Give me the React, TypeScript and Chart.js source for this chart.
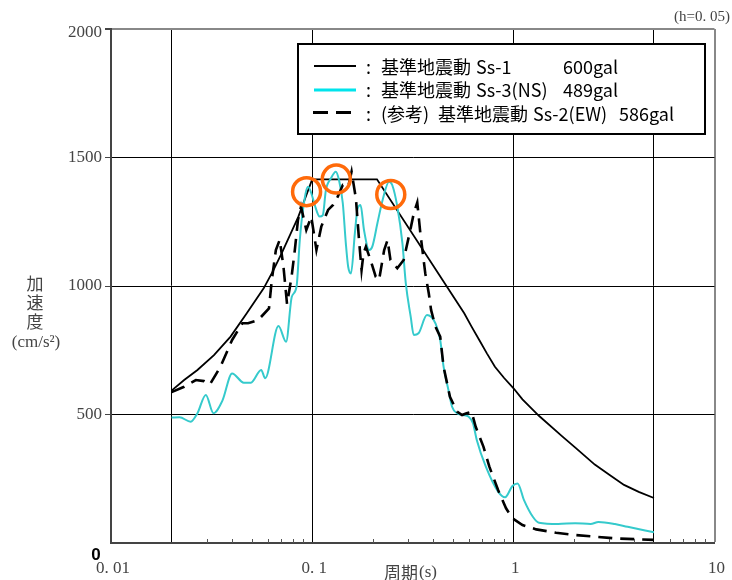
import { useEffect, useRef } from 'react';
import { Chart, registerables } from 'chart.js';
Chart.register(...registerables);

// ---- data ----
const ss1Period = [0.02, 0.0231, 0.0269, 0.0325, 0.0393, 0.0473, 0.0574, 0.0642, 0.0705, 0.0853, 0.1, 0.21, 0.57, 0.62, 0.677, 0.74, 0.81, 0.9, 1.0, 1.11, 1.34, 1.75, 2.04, 2.54, 3.0, 3.55, 4.2, 5.0];
const ss1Accel = [593, 634, 673, 731, 803, 894, 991, 1062, 1127, 1269, 1415, 1415, 894, 842, 790, 737, 686, 642, 603, 559, 495, 415, 370, 305, 266, 226, 199, 175];

const ss3Period = [0.02, 0.0219, 0.0249, 0.0269, 0.0296, 0.0323, 0.0358, 0.04, 0.0457, 0.0496, 0.0558, 0.0584, 0.068, 0.0742, 0.0792, 0.0836, 0.0868, 0.09, 0.0954, 0.099, 0.103, 0.109, 0.113, 0.117, 0.124, 0.131, 0.136, 0.142, 0.147, 0.151, 0.156, 0.163, 0.168, 0.174, 0.181, 0.192, 0.199, 0.211, 0.224, 0.241, 0.25, 0.265, 0.281, 0.292, 0.309, 0.32, 0.338, 0.372, 0.39, 0.41, 0.433, 0.45, 0.476, 0.496, 0.525, 0.56, 0.6, 0.63, 0.658, 0.73, 0.84, 0.91, 0.99, 1.05, 1.13, 1.25, 1.34, 1.67, 2.03, 2.42, 2.65, 3.2, 3.7, 5.0];
const ss3Accel = [488, 489, 472, 505, 576, 505, 554, 660, 624, 624, 673, 641, 844, 783, 958, 997, 1179, 1296, 1386, 1361, 1315, 1270, 1276, 1373, 1419, 1445, 1412, 1322, 1166, 1075, 1049, 1205, 1300, 1315, 1218, 1140, 1153, 1244, 1335, 1406, 1393, 1309, 1166, 1011, 880, 809, 816, 887, 880, 855, 790, 686, 595, 530, 505, 498, 491, 466, 401, 297, 200, 178, 222, 232, 167, 102, 79, 74, 77, 74, 82, 74, 63, 42];

const ss2Period = [0.02, 0.0231, 0.0264, 0.029, 0.031, 0.035, 0.04, 0.045, 0.048, 0.054, 0.061, 0.063, 0.066, 0.069, 0.072, 0.075, 0.079, 0.082, 0.085, 0.088, 0.0935, 0.099, 0.105, 0.111, 0.12, 0.127, 0.134, 0.142, 0.151, 0.157, 0.165, 0.171, 0.176, 0.18, 0.185, 0.195, 0.207, 0.215, 0.228, 0.237, 0.245, 0.265, 0.285, 0.31, 0.32, 0.333, 0.345, 0.365, 0.38, 0.39, 0.41, 0.433, 0.45, 0.484, 0.525, 0.556, 0.586, 0.62, 0.65, 0.71, 0.76, 0.84, 0.92, 0.99, 1.11, 1.3, 1.63, 2.03, 2.5, 3.2, 5.0];
const ss2Accel = [587, 608, 634, 630, 617, 686, 790, 855, 855, 868, 913, 1023, 1140, 1180, 1075, 930, 1036, 1140, 1257, 1309, 1218, 1270, 1140, 1231, 1296, 1315, 1348, 1393, 1386, 1445, 1340, 1179, 1062, 1127, 1153, 1101, 1036, 1023, 1140, 1179, 1101, 1069, 1101, 1231, 1283, 1325, 1205, 1049, 971, 907, 842, 803, 686, 569, 511, 498, 505, 511, 452, 375, 297, 206, 135, 96, 70, 53, 40, 31, 25, 18, 12];

const peakPeriod = [0.0938, 0.1318, 0.2459];
const peakAccel = [1367, 1416, 1356];

const xGridValues = [0.01, 0.02, 0.1, 1, 5, 10];
const xTickValues = [0.01, 0.1, 1, 10];
const xTickLabels = ['0. 01', '0. 1', '1', '10'];
const xMinorValues = [0.03, 0.04, 0.05, 0.06, 0.07, 0.08, 0.09, 0.2, 0.3, 0.4, 0.5, 0.6, 0.7, 0.8, 0.9, 2, 3, 4, 6, 7, 8, 9];
const yTickValues = [500, 1000, 1500, 2000];
const yTickLabels = ['500', '1000', '1500', '2000'];

const seriesNames = ['基準地震動 Ss-1', '基準地震動 Ss-3(NS)', '(参考)基準地震動 Ss-2(EW)'];

const CYAN = '#35CACC';
const ORANGE = '#FF6A0A';
const SERIF = '"Liberation Serif", "DejaVu Serif", serif';
const GOTHIC = '"Noto Sans CJK JP", "Noto Sans", sans-serif';

const toPts = (xs: number[], ys: number[]) => xs.map((x, i) => ({ x, y: ys[i] }));

const decorPlugin = {
  id: 'decor',
  afterDraw(chart: any) {
    const ctx = chart.ctx as CanvasRenderingContext2D;
    const xs = chart.scales.x;
    const ys = chart.scales.y;
    const area = chart.chartArea;
    ctx.save();
    // minor ticks on bottom axis
    ctx.strokeStyle = '#555';
    ctx.lineWidth = 1;
    xMinorValues.forEach((v) => {
      const px = Math.round(xs.getPixelForValue(v)) + 0.5;
      ctx.beginPath();
      ctx.moveTo(px, area.bottom);
      ctx.lineTo(px, area.bottom - 4);
      ctx.stroke();
    });
    // y tick labels
    ctx.fillStyle = '#444';
    ctx.font = '17px ' + SERIF;
    ctx.textAlign = 'right';
    ctx.textBaseline = 'middle';
    yTickValues.forEach((v, i) => {
      const py = ys.getPixelForValue(v) + (v === 2000 ? 4 : 0);
      ctx.fillText(yTickLabels[i], 102, py);
    });
    // zero label
    ctx.fillStyle = '#000';
    ctx.font = 'bold 17px "Liberation Sans", sans-serif';
    ctx.textAlign = 'center';
    ctx.fillText('0', 96, ys.getPixelForValue(0) + 12);
    // x tick labels
    ctx.fillStyle = '#444';
    ctx.font = '17px ' + SERIF;
    xTickValues.forEach((v, i) => {
      ctx.fillText(xTickLabels[i], xs.getPixelForValue(v) + 2, 569);
    });
    // axis titles
    ctx.font = '17px ' + GOTHIC;
    ctx.fillText('加', 35, 284);
    ctx.fillText('速', 35, 303);
    ctx.fillText('度', 35, 322);
    ctx.font = '17px ' + SERIF;
    ctx.fillText('(cm/s²)', 36, 343);
    ctx.textAlign = 'left';
    ctx.font = '17px ' + GOTHIC;
    ctx.fillText('周期', 384, 573);
    ctx.font = '17px ' + SERIF;
    ctx.fillText('(s)', 419, 573);
    ctx.font = '15px ' + SERIF;
    ctx.fillText('(h=0. 05)', 674, 17);

    // legend box
    ctx.fillStyle = '#fff';
    ctx.fillRect(298, 44, 407, 90);
    ctx.strokeStyle = '#000';
    ctx.lineWidth = 2;
    ctx.strokeRect(298, 44, 407, 90);
    // legend lines
    ctx.lineWidth = 2;
    ctx.beginPath();
    ctx.moveTo(314, 66); ctx.lineTo(356, 66); ctx.stroke();
    ctx.strokeStyle = '#00E4EC';
    ctx.lineWidth = 3;
    ctx.beginPath();
    ctx.moveTo(314, 90); ctx.lineTo(356, 90); ctx.stroke();
    ctx.strokeStyle = '#000';
    ctx.setLineDash([15, 8]);
    ctx.beginPath();
    ctx.moveTo(313, 112.5); ctx.lineTo(352, 112.5); ctx.stroke();
    ctx.setLineDash([]);
    // legend text
    ctx.fillStyle = '#000';
    ctx.textBaseline = 'middle';
    const rows = [
      { y: 67, parts: [[':', 366], ['基準地震動', 381], ['Ss-1', 476], ['600gal', 563]] },
      { y: 90, parts: [[':', 366], ['基準地震動', 381], ['Ss-3(NS)', 476], ['489gal', 563]] },
      { y: 114, parts: [[':', 366], ['(参考)', 381], ['基準地震動', 438], ['Ss-2(EW)', 533], ['586gal', 619]] },
    ];
    ctx.font = '18px ' + GOTHIC;
    rows.forEach((r) => {
      r.parts.forEach(([t, x]) => ctx.fillText(t as string, x as number, r.y));
    });
    ctx.restore();
  },
};

export default function App() {
  const ref = useRef<HTMLCanvasElement>(null);
  useEffect(() => {
    if (!ref.current) return;
    const chart = new Chart(ref.current, {
      type: 'line',
      data: {
        datasets: [
          {
            label: 'peaks',
            data: toPts(peakPeriod, peakAccel),
            showLine: false,
            pointRadius: 14,
            pointHoverRadius: 14,
            pointBorderWidth: 3.5,
            pointBorderColor: ORANGE,
            pointBackgroundColor: 'rgba(0,0,0,0)',
            borderColor: ORANGE,
            order: 0,
          },
          {
            label: seriesNames[2],
            data: toPts(ss2Period, ss2Accel),
            borderColor: '#000',
            borderWidth: 2.6,
            borderDash: [14, 8],
            pointRadius: 0,
            tension: 0,
            order: 1,
          },
          {
            label: seriesNames[1],
            data: toPts(ss3Period, ss3Accel),
            borderColor: CYAN,
            borderWidth: 2,
            pointRadius: 0,
            cubicInterpolationMode: 'monotone',
            order: 2,
          },
          {
            label: seriesNames[0],
            data: toPts(ss1Period, ss1Accel),
            borderColor: '#000',
            borderWidth: 1.8,
            pointRadius: 0,
            tension: 0,
            order: 3,
          },
        ],
      },
      options: {
        animation: false,
        responsive: false,
        devicePixelRatio: 1,
        layout: { padding: { top: 29, right: 11, left: 0, bottom: 0 } },
        plugins: { legend: { display: false }, tooltip: { enabled: false } },
        scales: {
          x: {
            type: 'logarithmic',
            min: 0.01,
            max: 10,
            afterBuildTicks: (s: any) => {
              s.ticks = xGridValues.map((v) => ({ value: v }));
            },
            afterFit: (s: any) => {
              s.height = 37;
            },
            ticks: { display: false },
            grid: {
              drawTicks: false,
              color: (c: any) => (c.tick && c.tick.value === 10 ? '#888' : c.tick && c.tick.value === 0.01 ? 'rgba(0,0,0,0)' : '#000'),
              lineWidth: (c: any) => (c.tick && c.tick.value === 10 ? 2 : 1),
            },
            border: { display: true, color: '#444', width: 2 },
          },
          y: {
            type: 'linear',
            min: 0,
            max: 2000,
            afterFit: (s: any) => {
              s.width = 111;
            },
            ticks: { display: false, stepSize: 500 },
            grid: {
              tickLength: 6,
              color: (c: any) => (c.tick && c.tick.value === 2000 ? '#888' : c.tick && c.tick.value === 0 ? 'rgba(0,0,0,0)' : '#000'),
              tickColor: (c: any) => (c.tick && c.tick.value === 0 ? 'rgba(0,0,0,0)' : '#444'),
              lineWidth: (c: any) => (c.tick && c.tick.value === 2000 ? 2 : 1),
            },
            border: { display: true, color: '#444', width: 2 },
          },
        },
      },
      plugins: [decorPlugin],
    });
    return () => chart.destroy();
  }, []);
  return (
    <div style={{ position: 'absolute', left: 0, top: 0, width: 732, height: 580, background: '#fff' }}>
      <canvas ref={ref} width={732} height={580} style={{ width: 732, height: 580 }} />
    </div>
  );
}
